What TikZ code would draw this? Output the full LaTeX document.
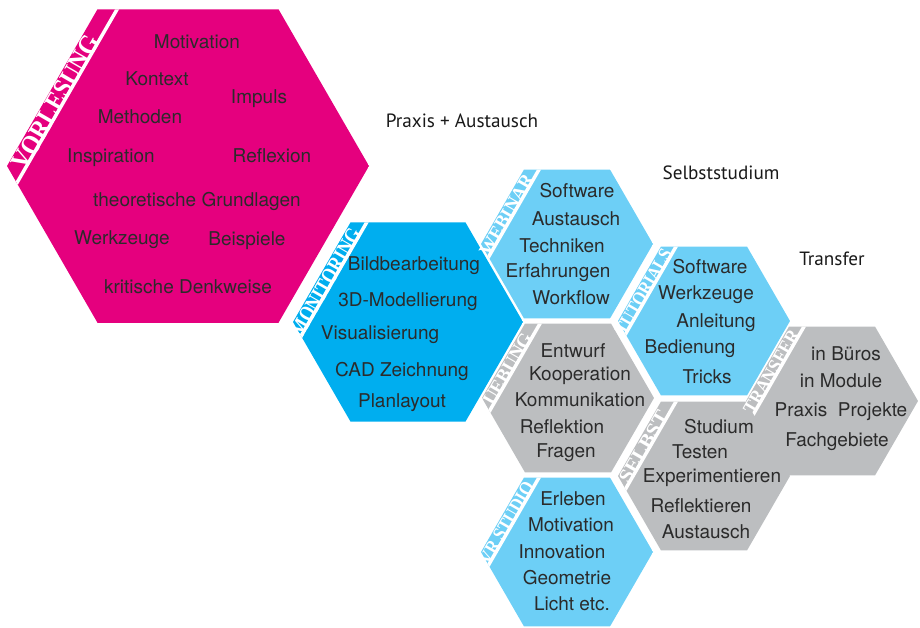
\documentclass[tikz,border=0pt]{standalone}
\usepackage{fontspec}
\usepackage{graphicx}
\setmainfont{TeX Gyre Heros}
\newfontfamily\bandfont{Liberation Serif}
\newfontfamily\headfont{PT Sans}
\usetikzlibrary{calc}

\definecolor{vlmagenta}{HTML}{E5007E}
\definecolor{monblue}{HTML}{00AEEF}
\definecolor{lightblue}{HTML}{6DCFF6}
\definecolor{hexgray}{HTML}{BCBEC0}
\definecolor{txtgray}{HTML}{2B2B2B}

\tikzset{
  txt/.style={text=txtgray, font=\fontsize{19}{21}\selectfont, inner sep=0pt},
  head/.style={text=black!90, font=\headfont\fontsize{19.2}{21}\selectfont, inner sep=0pt},
  bandtxt/.style={text=white, inner sep=0pt, text depth=0pt, rotate=60, font=\bandfont\bfseries}
}

% hexagon with a band along its upper left edge
\newcommand{\hexfeld}[8]{%
  \coordinate (#1) at (#2);
  \begin{scope}
    \clip (#1) ++(0:#3) -- ++(120:#3) -- ++(180:#3) -- ++(240:#3) -- ++(300:#3) -- ++(0:#3) -- cycle;
    \fill[#4] (#1) circle (#3);
    \draw[white, line width=3.5pt] ($(#1)+(180:#3)+(30:#5)+(-60:-30)$) -- ++(-60:{#3+60});
  \end{scope}
  \draw ($(#1)+(180:#3)+(-60:{0.44*#3})+(30:{0.5*#7+1})$) node[bandtxt] (#1-tag) {\resizebox{#6pt}{#7pt}{#8}};
}

\begin{document}
\begin{tikzpicture}[x=1pt, y=-1pt]

\useasboundingbox (0,0) rectangle (920,627);

\hexfeld{vorl}{188,166}{181}{vlmagenta}{17}{150}{18}{VORLESUNG}
\hexfeld{moni}{408,322}{115}{monblue}{14}{120}{15}{MONITORING}
\hexfeld{webi}{567,244}{86}{lightblue}{13}{90}{13}{WEBINAR}
\hexfeld{uebu}{568,398}{86}{hexgray}{13}{80}{13}{UEBUNG}
\hexfeld{vrst}{567,552}{86}{lightblue}{13}{92}{13}{VR STUDIO}
\hexfeld{tuto}{704,321}{86}{lightblue}{13}{95}{13}{TUTORIALS}
\hexfeld{selb}{704,476}{86}{hexgray}{13}{80}{13}{SELBST}
\hexfeld{tran}{832,401}{86}{hexgray}{13}{94}{13}{TRANSFER}

\draw (462,121) node[head] (praxis) {Praxis + Austausch};
\draw (721,173) node[head] (selbststudium) {Selbststudium};
\draw (832,259) node[head] (transfer) {Transfer};

\draw (197,42) node[txt] (vMotivation) {Motivation};
\draw (157,79) node[txt] (vKontext) {Kontext};
\draw (259,99) node[txt] (vImpuls) {Impuls};
\draw (140,117) node[txt] (vMethoden) {Methoden};
\draw (111,158) node[txt] (vInspiration) {Inspiration};
\draw (272,156) node[txt] (vReflexion) {Reflexion};
\draw (197,201) node[txt] (vGrundlagen) {theoretische Grundlagen};
\draw (122,240) node[txt] (vWerkzeuge) {Werkzeuge};
\draw (247,241) node[txt] (vBeispiele) {Beispiele};
\draw (188,287) node[txt] (vDenkweise) {kritische Denkweise};

\draw (414,266) node[txt] (mBild) {Bildbearbeitung};
\draw (408,302) node[txt] (mModell) {3D-Modellierung};
\draw (380,335) node[txt] (mVisual) {Visualisierung};
\draw (402,371) node[txt] (mCad) {CAD Zeichnung};
\draw (402,403) node[txt] (mPlan) {Planlayout};

\draw (577,191) node[txt] (wSoftware) {Software};
\draw (576,219) node[txt] (wAustausch) {Austausch};
\draw (562,246) node[txt] (wTechniken) {Techniken};
\draw (558,273) node[txt] (wErfahrungen) {Erfahrungen};
\draw (571,298) node[txt] (wWorkflow) {Workflow};

\draw (573,351) node[txt] (uEntwurf) {Entwurf};
\draw (580,376) node[txt] (uKooperation) {Kooperation};
\draw (580,400) node[txt] (uKommunikation) {Kommunikation};
\draw (562,427) node[txt] (uReflektion) {Reflektion};
\draw (566,453) node[txt] (uFragen) {Fragen};

\draw (573,499) node[txt] (rErleben) {Erleben};
\draw (571,525) node[txt] (rMotivation) {Motivation};
\draw (562,552) node[txt] (rInnovation) {Innovation};
\draw (567,578) node[txt] (rGeometrie) {Geometrie};
\draw (572,604) node[txt] (rLicht) {Licht etc.};

\draw (710,267) node[txt] (tSoftware) {Software};
\draw (706,295) node[txt] (tWerkzeuge) {Werkzeuge};
\draw (716,323) node[txt] (tAnleitung) {Anleitung};
\draw (690,349) node[txt] (tBedienung) {Bedienung};
\draw (707,377) node[txt] (tTricks) {Tricks};

\draw (719,427) node[txt] (sStudium) {Studium};
\draw (700,452) node[txt] (sTesten) {Testen};
\draw (712,478) node[txt] (sExperimentieren) {Experimentieren};
\draw (701,506) node[txt] (sReflektieren) {Reflektieren};
\draw (706,532) node[txt] (sAustausch) {Austausch};

\draw (846,354) node[txt] (xBueros) {in Büros};
\draw (841,381) node[txt] (xModule) {in Module};
\draw (841,412) node[txt] (xProjekte) {Praxis\ \ Projekte};
\draw (837,442) node[txt] (xFach) {Fachgebiete};

\end{tikzpicture}
\end{document}
